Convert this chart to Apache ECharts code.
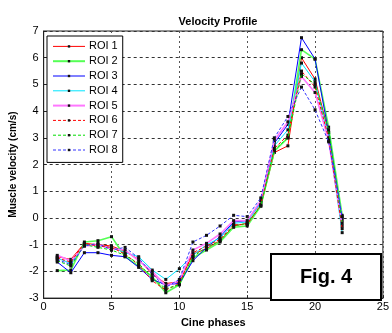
<!DOCTYPE html>
<html><head><meta charset="utf-8">
<script src="https://cdn.jsdelivr.net/npm/echarts@6/dist/echarts.min.js"></script>
<style>html,body{margin:0;padding:0;background:#fff}#c{width:392px;height:333px}</style>
</head><body><div id="c"></div>
<script>
const phases = [1,2,3,4,5,6,7,8,9,10,11,12,13,14,15,16,17,18,19,20,21,22];
const seriesNames = ['ROI 1','ROI 2','ROI 3','ROI 4','ROI 5','ROI 6','ROI 7','ROI 8'];
const roi1 = [-1.45,-1.55,-0.95,-1.0,-1.05,-1.25,-1.55,-2.1,-2.45,-2.4,-1.35,-1.15,-0.85,-0.3,-0.2,0.45,2.45,2.7,6.0,5.2,3.2,0.0];
const roi2 = [-1.97,-1.95,-0.9,-0.85,-0.7,-1.45,-1.8,-2.2,-2.8,-2.5,-1.5,-1.2,-0.9,-0.35,-0.3,0.45,2.5,3.0,6.3,5.95,3.4,0.1];
const roi3 = [-1.65,-2.05,-1.3,-1.3,-1.4,-1.45,-1.85,-2.3,-2.5,-2.45,-1.6,-1.1,-0.7,-0.15,-0.1,0.6,2.8,3.5,6.75,5.95,3.2,-0.1];
const roi4 = [-1.5,-1.7,-1.0,-1.05,-1.1,-1.3,-1.45,-1.95,-2.3,-1.9,-1.4,-1.0,-0.75,-0.2,-0.15,0.55,2.7,3.3,5.8,5.1,3.0,-0.55];
const roi5 = [-1.4,-1.6,-1.05,-1.0,-1.15,-1.2,-1.6,-2.0,-2.55,-2.35,-1.2,-0.95,-0.6,-0.1,-0.1,0.65,2.9,3.6,5.3,4.7,2.9,-0.3];
const roi6 = [-1.5,-1.65,-0.95,-1.05,-1.1,-1.35,-1.75,-2.35,-2.7,-2.45,-1.3,-1.05,-0.8,-0.25,-0.25,0.5,2.6,3.1,5.5,4.9,3.0,-0.4];
const roi7 = [-1.6,-1.8,-1.0,-1.1,-1.2,-1.4,-1.7,-2.25,-2.65,-2.5,-1.45,-1.1,-0.85,-0.3,-0.2,0.45,2.55,3.0,5.4,5.0,3.3,-0.2];
const roi8 = [-1.55,-1.75,-1.05,-0.95,-1.2,-1.1,-1.5,-2.1,-2.6,-2.3,-0.9,-0.65,-0.3,0.1,0.05,0.75,3.0,3.8,4.9,4.05,2.85,0.05];
const allValues = [roi1,roi2,roi3,roi4,roi5,roi6,roi7,roi8];
const colors = ['#ff0000','#55ff55','#0000ff','#00e5ff','#ff77ff','#ff0000','#00dd00','#3333ff'];
const widths = [1,1.6,1,1,1.6,1,1,1];
const dashes = ['solid','solid','solid','solid','solid','dashed','dashed','dashed'];

const FONT = 'Liberation Sans, Arial, sans-serif';
const chart = echarts.init(document.getElementById('c'), null, {renderer:'canvas'});
const series = allValues.map((vals,i)=>({
  name: seriesNames[i],
  type: 'line',
  data: phases.map((p,j)=>[p, vals[j]]),
  symbol: 'rect',
  symbolSize: 3,
  showSymbol: true,
  itemStyle: {color: '#111'},
  lineStyle: {color: colors[i], width: widths[i], type: dashes[i]==='dashed' ? [3,2] : 'solid'},
  emphasis: {disabled: true},
  animation: false,
  z: 2 + i
}));
chart.setOption({
  animation: false,
  backgroundColor: '#fff',
  title: {text: 'Velocity Profile', left: 213, top: 11, textAlign: 'center',
    textStyle: {fontFamily: FONT, fontSize: 11, fontWeight: 'bold', color: '#000'}},
  grid: {left: 41, right: 2, top: 31, bottom: 28, show: true, borderColor: '#222', borderWidth: 1, backgroundColor: 'transparent'},
  legend: {
    orient: 'vertical', left: 47, top: 36,
    data: seriesNames.map((n,i)=>({name: n, lineStyle: {width: widths[i] > 1 ? 2 : 1}})),
    itemWidth: 32, itemHeight: 3, itemGap: 0,
    padding: [3, 5, 5, 5],
    backgroundColor: '#fff', borderColor: '#000', borderWidth: 1,
    textStyle: {fontFamily: FONT, fontSize: 11, color: '#000', padding: [0,0,0,-1], lineHeight: 14.8},
    selectedMode: false
  },
  xAxis: {
    type: 'value', min: 0, max: 25, interval: 5,
    name: 'Cine phases', nameLocation: 'middle', nameGap: 14,
    nameTextStyle: {fontFamily: FONT, fontSize: 11, fontWeight: 'bold', color: '#000'},
    axisLine: {show: true, onZero: false, lineStyle: {color: '#222'}},
    axisTick: {show: true, inside: true, length: 3, lineStyle: {color: '#222'}},
    axisLabel: {fontFamily: FONT, fontSize: 11, color: '#000', margin: 3},
    splitLine: {show: true, lineStyle: {color: '#555', type: [2,3], width: 1}}
  },
  yAxis: {
    type: 'value', min: -3, max: 7, interval: 1,
    name: 'Muscle velocity (cm/s)', nameLocation: 'middle', nameGap: 24,
    nameTextStyle: {fontFamily: FONT, fontSize: 10, fontWeight: 'bold', color: '#000'},
    axisLine: {show: true, onZero: false, lineStyle: {color: '#222'}},
    axisTick: {show: true, inside: true, length: 3, lineStyle: {color: '#222'}},
    axisLabel: {fontFamily: FONT, fontSize: 11, color: '#000', margin: 5},
    splitLine: {show: true, lineStyle: {color: '#333', type: [3,3], width: 1}}
  },
  graphic: [
    {type: 'rect', shape: {x: 271, y: 254, width: 110, height: 46}, style: {fill: '#fff', stroke: '#000', lineWidth: 2}, z: 100},
    {type: 'text', x: 326, y: 277, style: {text: 'Fig. 4', fontFamily: FONT, fontSize: 20, fontWeight: 'bold', fill: '#000', textAlign: 'center', textVerticalAlign: 'middle'}, z: 101}
  ],
  series: series
});
</script></body></html>
